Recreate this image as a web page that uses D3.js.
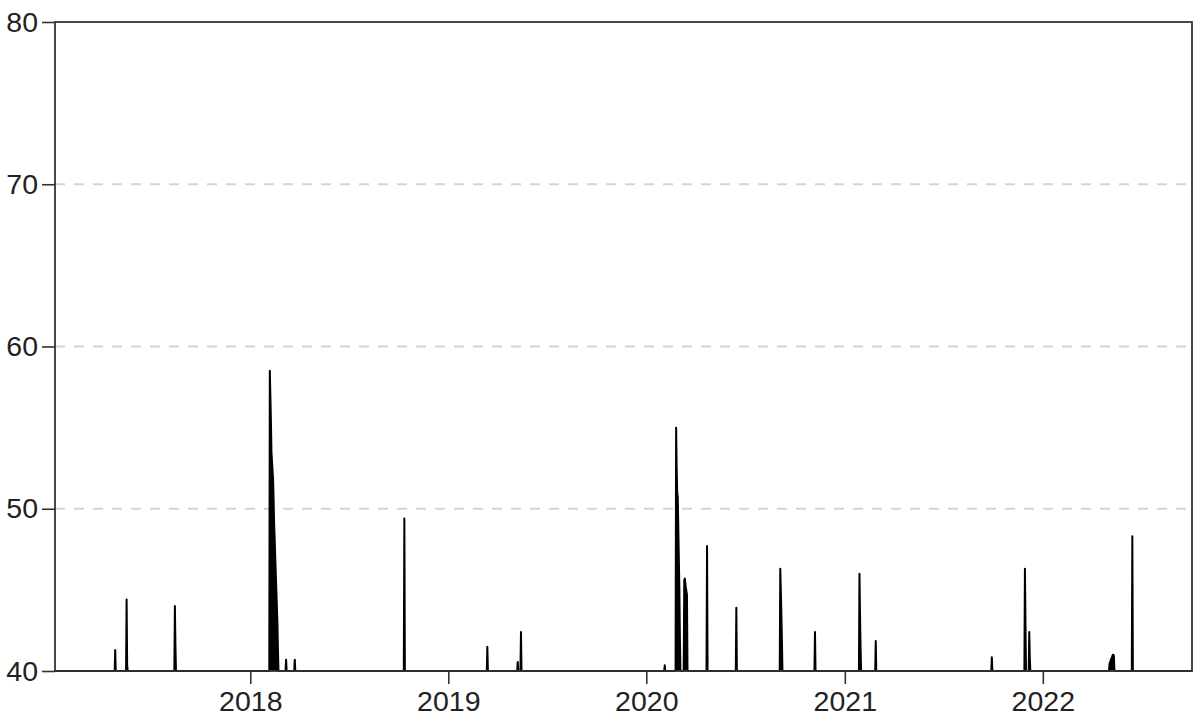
<!DOCTYPE html>
<html>
<head>
<meta charset="utf-8">
<script src="https://cdn.jsdelivr.net/npm/d3@7"></script>
<style>
  html, body { margin: 0; padding: 0; background: #fff; }
  svg text { font-family: "Liberation Sans", Arial, sans-serif; fill: #222; }
</style>
</head>
<body>
<svg id="chart" width="1204" height="724"></svg>
<script>
// ---- data (days below the axis floor are not listed) ----
const obsDates = [
  "2017-04-27","2017-05-18","2017-05-19","2017-08-15","2017-08-16",
  "2018-02-06","2018-02-07","2018-02-08","2018-02-09","2018-02-12","2018-02-13",
  "2018-02-14","2018-02-15","2018-02-16","2018-02-20","2018-02-21",
  "2018-03-08","2018-03-24","2018-10-12","2019-03-14","2019-05-09","2019-05-15",
  "2020-02-04","2020-02-25","2020-02-26","2020-02-27","2020-02-28","2020-03-02","2020-03-03",
  "2020-03-11","2020-03-12","2020-03-13","2020-03-14","2020-03-15","2020-03-16",
  "2020-04-22","2020-06-15","2020-09-04","2020-09-05","2020-09-06","2020-09-07",
  "2020-11-07","2021-01-28","2021-01-29","2021-01-30","2021-02-27","2021-09-29",
  "2021-11-29","2021-11-30","2021-12-07","2021-12-08",
  "2022-05-04","2022-05-05","2022-05-06","2022-05-09","2022-05-10","2022-05-11","2022-05-12",
  "2022-06-15"
];
const obsValues = [
  41.3, 44.4, 40.4, 44.0, 41.6,
  58.5, 57.0, 55.5, 53.5, 51.8, 50.5,
  49.0, 48.1, 47.0, 43.0, 41.3,
  40.7, 40.7, 49.4, 41.5, 40.55, 42.4,
  40.35, 55.0, 52.5, 51.0, 50.75, 45.0, 42.0,
  45.6, 45.7, 45.4, 45.1, 44.9, 44.7,
  47.7, 43.9, 46.3, 45.0, 43.5, 42.0,
  42.4, 46.0, 43.5, 41.5, 41.85, 40.85,
  46.3, 43.0, 42.4, 40.8,
  40.45, 40.55, 40.65, 40.9, 41.0, 41.0, 40.95,
  48.3
];
const yFloor = 40;
const yTicks = [40, 50, 60, 70, 80];
const gridValues = [50, 60, 70];
const xTickYears = ["2018", "2019", "2020", "2021", "2022"];
const dateRange = ["2017-01-06", "2022-10-03"];

// ---- layout ----
const L = 55, R = 1192, T = 22, B = 671;
const parse = d3.utcParse("%Y-%m-%d");
const svg = d3.select("#chart");

const x = d3.scaleUtc().domain(dateRange.map(parse)).range([L, R]);
const y = d3.scaleLinear().domain([40, 80]).range([B, T]);

// build the series: observed points, with floor-level points around each episode
const obs = obsDates.map((d, i) => ({ date: parse(d), value: obsValues[i] }));
const series = [{ date: x.domain()[0], value: yFloor }];
obs.forEach((p, i) => {
  const prev = i > 0 ? obs[i - 1].date : null;
  if (!prev || (p.date - prev) / 864e5 > 4) {
    if (prev) series.push({ date: d3.utcDay.offset(prev, 1), value: yFloor });
    series.push({ date: d3.utcDay.offset(p.date, -1), value: yFloor });
  }
  series.push(p);
});
series.push({ date: d3.utcDay.offset(obs[obs.length - 1].date, 1), value: yFloor });
series.push({ date: x.domain()[1], value: yFloor });

// grid
svg.append("g").selectAll("line").data(gridValues).join("line")
  .attr("x1", L).attr("x2", R)
  .attr("y1", d => y(d)).attr("y2", d => y(d))
  .attr("stroke", "#d4d4d4").attr("stroke-width", 2)
  .attr("stroke-dasharray", "10,9");

// data
svg.append("path").datum(series)
  .attr("d", d3.area().x(d => x(d.date)).y0(y(yFloor)).y1(d => y(d.value)))
  .attr("fill", "#000");
svg.append("path").datum(series)
  .attr("d", d3.line().x(d => x(d.date)).y(d => y(d.value)))
  .attr("fill", "none").attr("stroke", "#000")
  .attr("stroke-width", 2).attr("stroke-linejoin", "round");

// frame
svg.append("rect").attr("x", L).attr("y", T).attr("width", R - L).attr("height", B - T)
  .attr("fill", "none").attr("stroke", "#333").attr("stroke-width", 1.8);

// y axis
const yAxis = svg.append("g").attr("transform", `translate(${L},0)`)
  .call(d3.axisLeft(y).tickValues(yTicks).tickSize(13).tickPadding(4).tickFormat(d3.format("d")));
yAxis.select(".domain").remove();
yAxis.selectAll(".tick line").attr("stroke", "#333").attr("stroke-width", 1.6);
yAxis.selectAll("text").attr("font-size", 28.5).attr("fill", "#222");

// x axis
const xAxis = svg.append("g").attr("transform", `translate(0,${B})`)
  .call(d3.axisBottom(x).tickValues(xTickYears.map(yr => parse(yr + "-01-01")))
    .tickSize(13).tickPadding(7).tickFormat(d3.utcFormat("%Y")));
xAxis.select(".domain").remove();
xAxis.selectAll(".tick line").attr("stroke", "#333").attr("stroke-width", 1.6);
xAxis.selectAll("text").attr("font-size", 28.5).attr("fill", "#222");
</script>
</body>
</html>
